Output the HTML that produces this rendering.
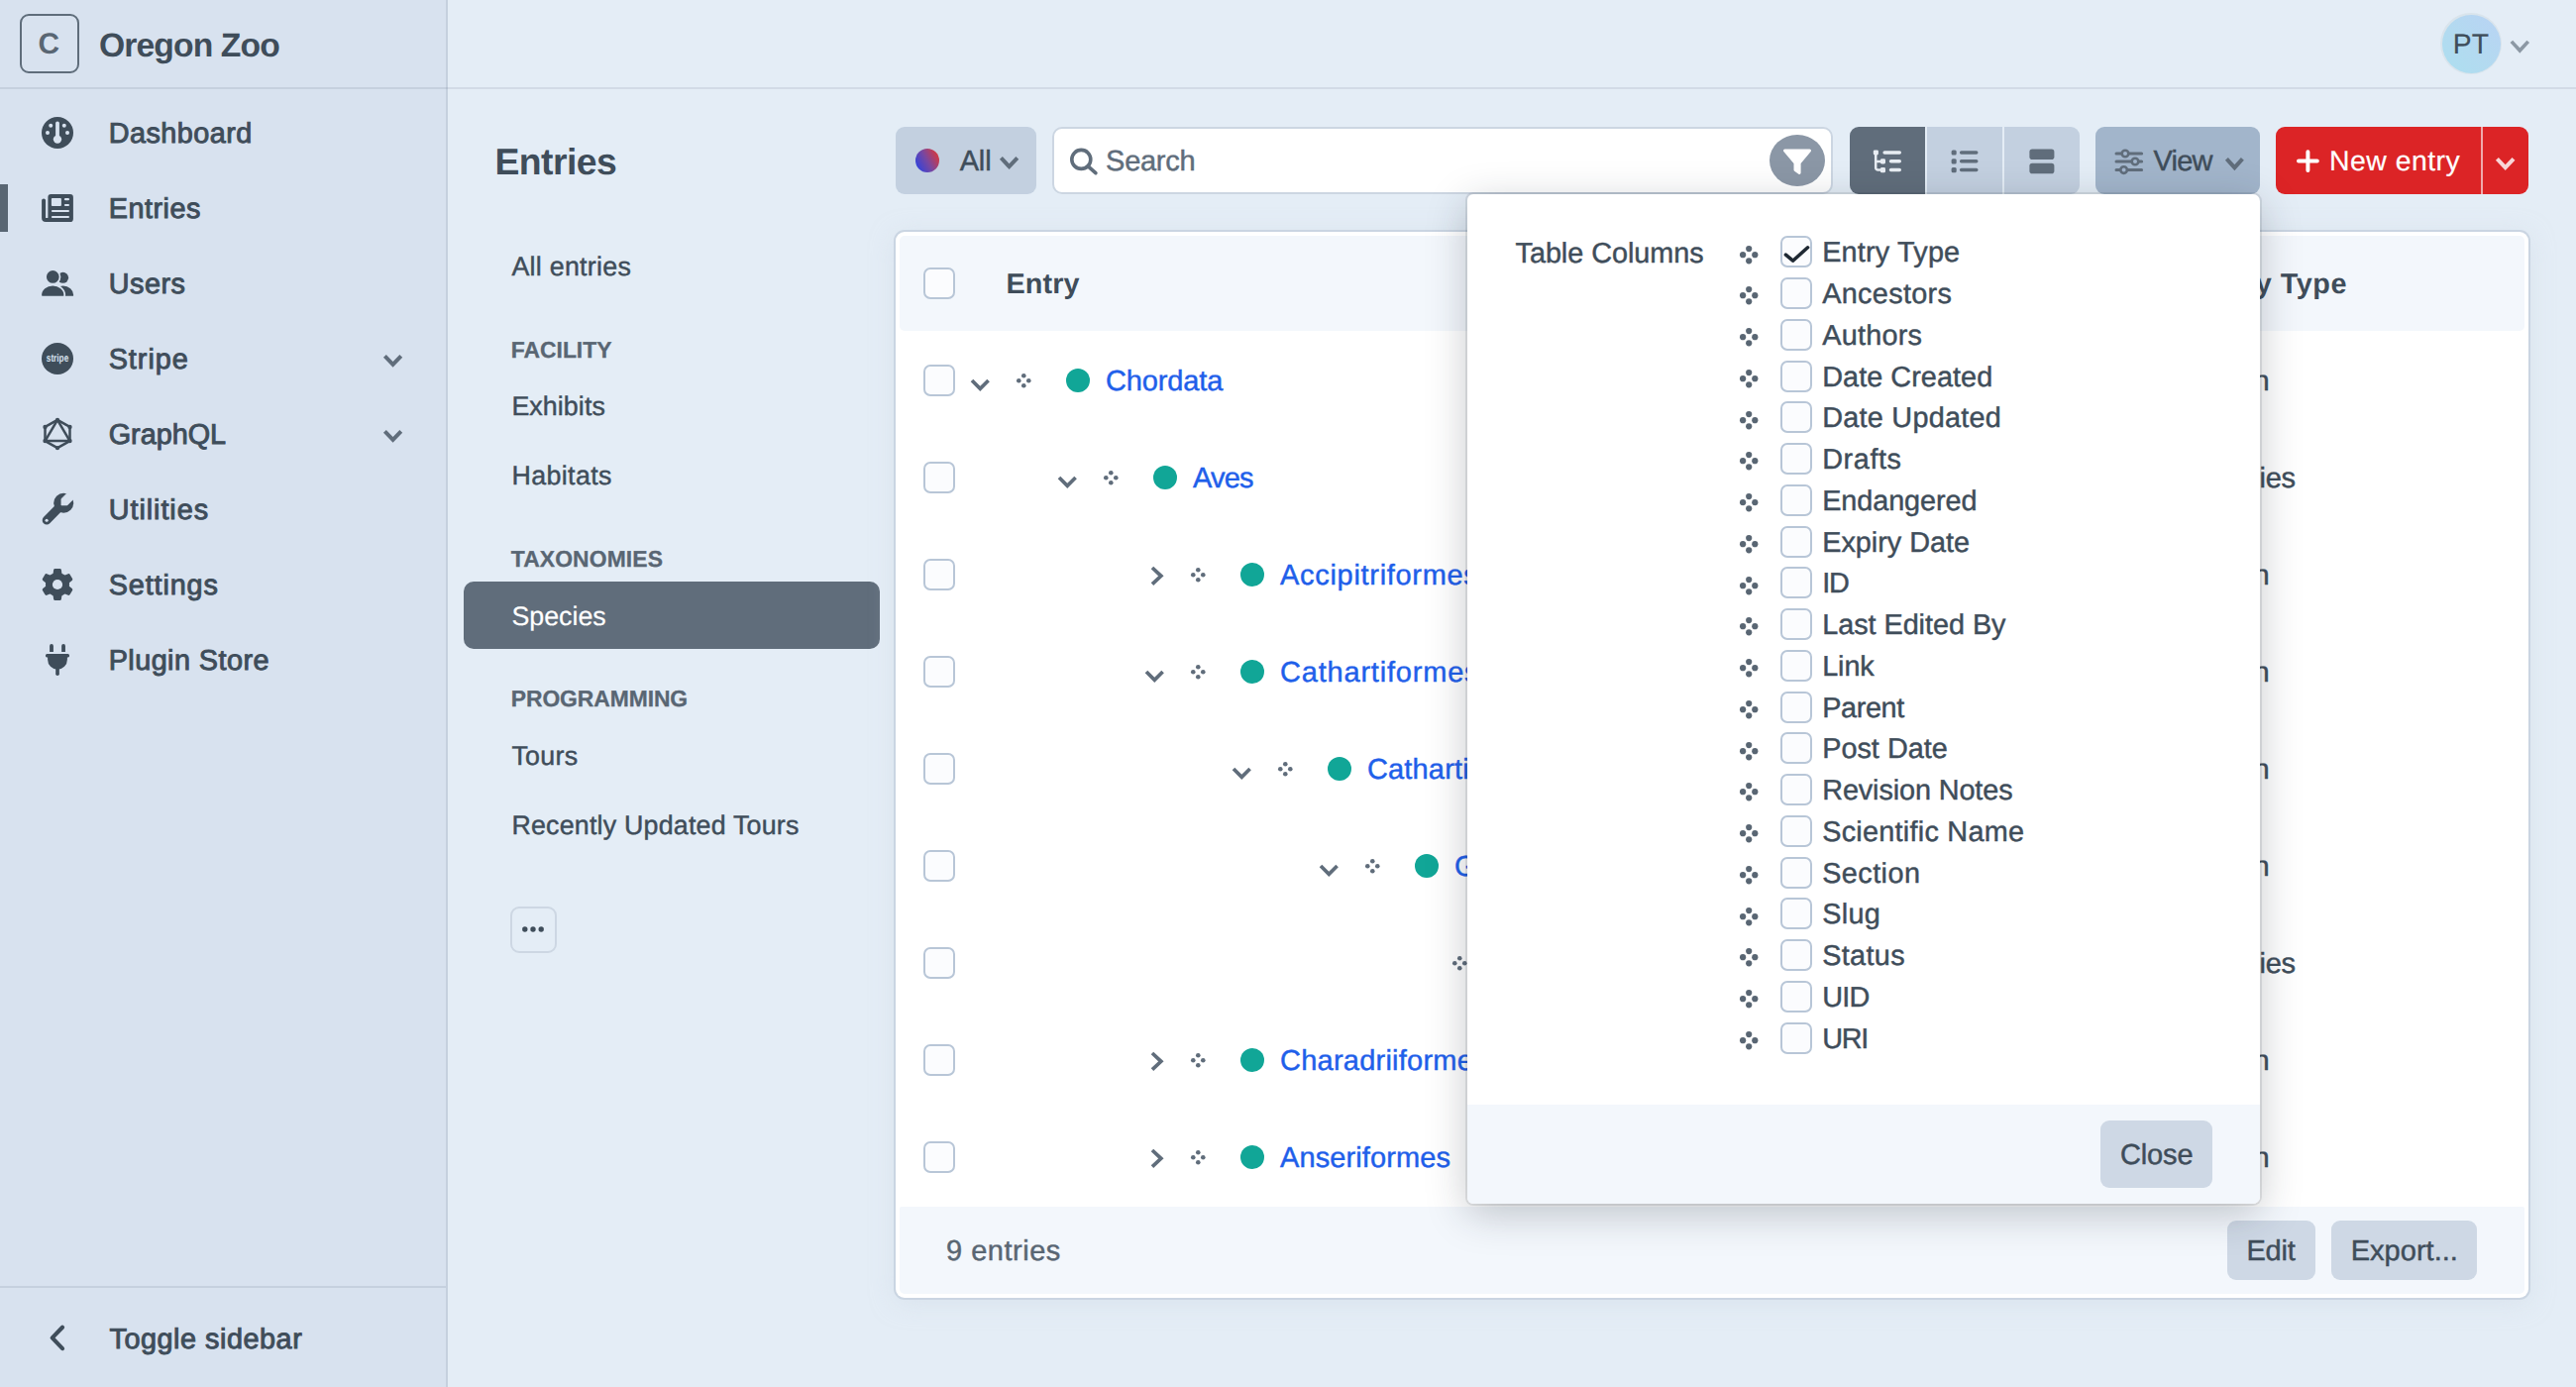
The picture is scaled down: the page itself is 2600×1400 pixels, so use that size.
<!DOCTYPE html>
<html lang="en"><head><meta charset="utf-8"><title>Entries - Oregon Zoo</title>
<style>
html,body{margin:0;padding:0}
body{width:2600px;height:1400px;overflow:hidden;position:relative;background:#e4edf6;font-family:"Liberation Sans",sans-serif;text-rendering:geometricPrecision;color:#3f4d5a}
.a{position:absolute;display:block}
.t{position:absolute;white-space:nowrap;display:block;margin:0;padding:0;font-weight:400;text-decoration:none}
</style></head><body>
<nav id="global-sidebar" aria-label="Primary">
<div class="a" style="left:0px;top:0px;width:450px;height:1400px;background:#d8e2ef;"></div>
<div class="a" style="left:450px;top:0px;width:2px;height:1400px;background:#c5d0de;"></div>
<div class="a" style="left:0px;top:88px;width:450px;height:2px;background:#c5d0de;"></div>
<div class="a" style="left:450px;top:88px;width:2px;height:2px;background:#b5c1d0;"></div>
<div class="a" style="left:0px;top:1298px;width:450px;height:2px;background:#c5d0de;"></div>
<div class="a" style="left:20px;top:14px;width:60px;height:60px;box-sizing:border-box;border:2px solid #5f6d7b;border-radius:9px;"></div>
<div class="a" style="left:0px;top:186px;width:8px;height:48px;background:#596673;"></div>
<svg class="a" style="left:42px;top:118px" width="32" height="32" viewBox="-16 -16 32 32" ><circle r="16" fill="#3f4d5a"/><g fill="#d8e2ef"><rect x="-1.9" y="-11.6" width="3.8" height="18" rx="1.9"/><circle cx="0" cy="6.6" r="4.2"/><circle cx="-6.8" cy="-7.2" r="2"/><circle cx="6.8" cy="-7.2" r="2"/><circle cx="-10" cy="0" r="2"/><circle cx="10" cy="0" r="2"/></g></svg>
<svg class="a" style="left:42px;top:196px" width="32" height="28" viewBox="0 0 32 28" ><path fill="#3f4d5a" d="M9.6 0.1h19.2a3.1 3.1 0 0 1 3.1 3.1v21.7a3.1 3.1 0 0 1-3.1 3.1H4.2A4.1 4.1 0 0 1 .1 23.9V6.1a2 2 0 0 1 3.95 0V23.4a.6 .6 0 0 0 .6 .6H5.8a.6 .6 0 0 0 .6-.6V3.2A3.1 3.1 0 0 1 9.6 .1z"/><g fill="#d8e2ef"><rect x="9.9" y="4.1" width="10" height="7.8" rx="0.9"/><rect x="22.9" y="4.1" width="5.1" height="2.2" rx="1.1"/><rect x="22.9" y="9.9" width="5.1" height="2.1" rx="1.05"/><rect x="9.9" y="15.9" width="18.1" height="2.2" rx="1.1"/><rect x="9.9" y="22" width="18.1" height="2.1" rx="1.05"/></g></svg>
<svg class="a" style="left:42px;top:273px" width="33" height="27" viewBox="0 0 33 27" ><g fill="#3f4d5a"><circle cx="21.6" cy="7.3" r="5.5"/><path d="M11 24.9a10.6 9.4 0 0 1 21.2 0a.9 .9 0 0 1-.9 .9h-19.4a.9 .9 0 0 1-.9-.9z"/></g><g fill="#3f4d5a" stroke="#d8e2ef" stroke-width="1.7"><circle cx="11.3" cy="6.45" r="7.2"/><path d="M-.75 24.9a12 10.2 0 0 1 24 0a1.7 1.7 0 0 1-1.7 1.7h-20.6a1.7 1.7 0 0 1-1.7-1.7z"/></g></svg>
<svg class="a" style="left:42px;top:346px" width="32" height="32" viewBox="-16 -16 32 32" ><circle r="16" fill="#3f4d5a"/><text x="-11.2" y="2.9" textLength="22.4" lengthAdjust="spacingAndGlyphs" font-family="Liberation Sans, sans-serif" font-weight="700" font-size="11" fill="#d8e2ef">stripe</text></svg>
<svg class="a" style="left:41px;top:419.9px" width="34" height="36" viewBox="-17 -18 34 36" ><g fill="none" stroke="#3f4d5a" stroke-width="2.5" stroke-linejoin="round"><polygon points="0,-14.1 12.5,-7.05 12.5,7.05 0,14.1 -12.5,7.05 -12.5,-7.05"/><polygon points="0,-14.1 12.5,7.05 -12.5,7.05"/></g><g fill="#3f4d5a"><circle cx="0" cy="-14.1" r="2.2"/><circle cx="12.5" cy="-7.05" r="2.2"/><circle cx="12.5" cy="7.05" r="2.2"/><circle cx="0" cy="14.1" r="2.2"/><circle cx="-12.5" cy="7.05" r="2.2"/><circle cx="-12.5" cy="-7.05" r="2.2"/></g></svg>
<svg class="a" style="left:41px;top:497px" width="34" height="34" viewBox="0 0 34 34" ><g><path d="M6.1 28.2 L21 13" stroke="#3f4d5a" stroke-width="8.8" stroke-linecap="round" fill="none"/><circle cx="23.2" cy="10.7" r="10" fill="#3f4d5a"/><path d="M20.9 13 L20.9 6.6 L32.9 -5.4 L38.9 1 L26.9 13z" fill="#d8e2ef" stroke="#d8e2ef" stroke-width="0.6" stroke-linejoin="round"/><circle cx="6.1" cy="28.2" r="1.55" fill="#d8e2ef"/></g></svg>
<svg class="a" style="left:41px;top:573px" width="34" height="34" viewBox="-17 -17 34 34" ><g fill="#3f4d5a"><path d="M-2.4 -16h4.8a1.5 1.5 0 0 1 1.5 1.3l.9 6.7h-9.6l.9-6.7a1.5 1.5 0 0 1 1.5-1.3z" transform="rotate(0)"/><path d="M-2.4 -16h4.8a1.5 1.5 0 0 1 1.5 1.3l.9 6.7h-9.6l.9-6.7a1.5 1.5 0 0 1 1.5-1.3z" transform="rotate(60)"/><path d="M-2.4 -16h4.8a1.5 1.5 0 0 1 1.5 1.3l.9 6.7h-9.6l.9-6.7a1.5 1.5 0 0 1 1.5-1.3z" transform="rotate(120)"/><path d="M-2.4 -16h4.8a1.5 1.5 0 0 1 1.5 1.3l.9 6.7h-9.6l.9-6.7a1.5 1.5 0 0 1 1.5-1.3z" transform="rotate(180)"/><path d="M-2.4 -16h4.8a1.5 1.5 0 0 1 1.5 1.3l.9 6.7h-9.6l.9-6.7a1.5 1.5 0 0 1 1.5-1.3z" transform="rotate(240)"/><path d="M-2.4 -16h4.8a1.5 1.5 0 0 1 1.5 1.3l.9 6.7h-9.6l.9-6.7a1.5 1.5 0 0 1 1.5-1.3z" transform="rotate(300)"/><circle r="12"/></g><circle r="5.1" fill="#d8e2ef"/></svg>
<svg class="a" style="left:46px;top:650px" width="24" height="32" viewBox="0 0 24 32" ><g fill="#3f4d5a"><path d="M4.1 7.9V1.9a1.9 1.9 0 0 1 3.8 0v6z"/><path d="M16.15 7.9V1.9a1.9 1.9 0 0 1 3.8 0v6z"/><path d="M1.6 10.1h20.8a1.7 1.7 0 0 1 1.2 2.9l-.6.6h-22l-.6-.6a1.7 1.7 0 0 1 1.2-2.9z"/><path d="M2.1 12.6h19.8v3.2a9.9 9.9 0 0 1-19.8 0z"/><rect x="10.2" y="23" width="3.65" height="9" rx="1.82"/></g></svg>
<svg class="a" style="left:383.0px;top:353.7px" width="27.2" height="20.2" viewBox="-13.6 -10.1 27.2 20.2" ><path d="M-8.20 -4.70 L0 3.70 L8.20 -4.70" fill="none" stroke="#606d7b" stroke-width="4" stroke-linecap="butt" stroke-linejoin="miter"/></svg>
<svg class="a" style="left:383.0px;top:429.7px" width="27.2" height="20.2" viewBox="-13.6 -10.1 27.2 20.2" ><path d="M-8.20 -4.70 L0 3.70 L8.20 -4.70" fill="none" stroke="#606d7b" stroke-width="4" stroke-linecap="butt" stroke-linejoin="miter"/></svg>
<svg class="a" style="left:45.85px;top:1333.6px" width="22.700000000000003" height="32.8" viewBox="-11.350000000000001 -16.4 22.700000000000003 32.8" ><path d="M5.68 -10.73 L-4.63 0 L5.68 10.73" fill="none" stroke="#3f4d5a" stroke-width="4.2" stroke-linecap="round" stroke-linejoin="round"/></svg>
<h2 class="t" style="left:99.95px;top:23.50px;font-size:33.7px;line-height:44px;color:#3f4d5a;letter-spacing:-0.899px;font-weight:700;">Oregon Zoo</h2>
<span class="t" style="left:38.57px;top:25.20px;font-size:29.8px;line-height:39px;color:#596673;letter-spacing:0.000px;font-weight:700;">C</span>
<a class="t" style="left:109.70px;top:116.30px;font-size:28.8px;line-height:38px;color:#3f4d5a;letter-spacing:0.478px;-webkit-text-stroke:0.95px currentColor;">Dashboard</a>
<a class="t" style="left:109.70px;top:192.30px;font-size:28.8px;line-height:38px;color:#3f4d5a;letter-spacing:0.511px;-webkit-text-stroke:0.95px currentColor;">Entries</a>
<a class="t" style="left:109.70px;top:268.30px;font-size:28.8px;line-height:38px;color:#3f4d5a;letter-spacing:0.498px;-webkit-text-stroke:0.95px currentColor;">Users</a>
<a class="t" style="left:109.70px;top:344.30px;font-size:28.8px;line-height:38px;color:#3f4d5a;letter-spacing:0.967px;-webkit-text-stroke:0.95px currentColor;">Stripe</a>
<a class="t" style="left:109.70px;top:420.30px;font-size:28.8px;line-height:38px;color:#3f4d5a;letter-spacing:-0.008px;-webkit-text-stroke:0.95px currentColor;">GraphQL</a>
<a class="t" style="left:109.70px;top:496.10px;font-size:28.8px;line-height:38px;color:#3f4d5a;letter-spacing:0.948px;-webkit-text-stroke:0.95px currentColor;">Utilities</a>
<a class="t" style="left:109.70px;top:572.10px;font-size:28.8px;line-height:38px;color:#3f4d5a;letter-spacing:0.877px;-webkit-text-stroke:0.95px currentColor;">Settings</a>
<a class="t" style="left:109.70px;top:648.30px;font-size:28.8px;line-height:38px;color:#3f4d5a;letter-spacing:0.443px;-webkit-text-stroke:0.95px currentColor;">Plugin Store</a>
<a class="t" style="left:110.55px;top:1332.90px;font-size:28.8px;line-height:38px;color:#3f4d5a;letter-spacing:0.528px;-webkit-text-stroke:0.95px currentColor;">Toggle sidebar</a>
</nav>
<header id="global-header">
<div class="a" style="left:452px;top:88px;width:2148px;height:2px;background:#d2dae6;"></div>
<div class="a" style="left:2463px;top:13px;width:62px;height:62px;border-radius:50%;background:#d9e4ec;"></div>
<div class="a" style="left:2464.5px;top:14.5px;width:59px;height:59px;border-radius:50%;background:linear-gradient(225deg,#b9d3f4 0%,#b3daf0 55%,#acdff0 100%);"></div>
<svg class="a" style="left:2529.8px;top:36.6px" width="26.599999999999998" height="19.8" viewBox="-13.299999999999999 -9.9 26.599999999999998 19.8" ><path d="M-8.44 -5.04 L0 4.14 L8.44 -5.04" fill="none" stroke="#8c98a4" stroke-width="3.6" stroke-linecap="butt" stroke-linejoin="miter"/></svg>
<span class="t" style="left:2475.70px;top:25.80px;font-size:28.2px;line-height:37px;color:#3f4d5a;letter-spacing:0.350px;-webkit-text-stroke:0.2px currentColor;">PT</span>
</header>
<aside id="sidebar" aria-label="Sources">
<div class="a" style="left:468px;top:587px;width:420px;height:68px;background:#606d7b;border-radius:10px;"></div>
<div class="a" style="left:514.5px;top:914.5px;width:47px;height:47px;box-sizing:border-box;border:2px solid #cdd7e3;border-radius:9px;"></div>
<svg class="a" style="left:526px;top:932px" width="24" height="12" viewBox="-12 -6 24 12" ><g fill="#3f4d5a"><circle cx="-8.2" r="2.7"/><circle r="2.7"/><circle cx="8.2" r="2.7"/></g></svg>
<h1 class="t" style="left:499.46px;top:139.00px;font-size:37.4px;line-height:49px;color:#3f4d5a;letter-spacing:-0.573px;font-weight:700;">Entries</h1>
<a class="t" style="left:516.40px;top:251.90px;font-size:26.8px;line-height:35px;color:#3f4d5a;letter-spacing:0.277px;-webkit-text-stroke:0.45px currentColor;">All entries</a>
<a class="t" style="left:516.40px;top:392.80px;font-size:26.8px;line-height:35px;color:#3f4d5a;letter-spacing:0.085px;-webkit-text-stroke:0.45px currentColor;">Exhibits</a>
<a class="t" style="left:516.40px;top:463.10px;font-size:26.8px;line-height:35px;color:#3f4d5a;letter-spacing:0.389px;-webkit-text-stroke:0.45px currentColor;">Habitats</a>
<a class="t" style="left:516.40px;top:746.10px;font-size:26.8px;line-height:35px;color:#3f4d5a;letter-spacing:0.301px;-webkit-text-stroke:0.45px currentColor;">Tours</a>
<a class="t" style="left:516.40px;top:816.10px;font-size:26.8px;line-height:35px;color:#3f4d5a;letter-spacing:0.210px;-webkit-text-stroke:0.45px currentColor;">Recently Updated Tours</a>
<a class="t" style="left:516.40px;top:605.20px;font-size:26.8px;line-height:35px;color:#ffffff;letter-spacing:-0.001px;-webkit-text-stroke:0.2px currentColor;">Species</a>
<h6 class="t" style="left:515.80px;top:337.70px;font-size:22.9px;line-height:30px;color:#596673;letter-spacing:-0.014px;font-weight:700;-webkit-text-stroke:0.3px currentColor;">FACILITY</h6>
<h6 class="t" style="left:515.80px;top:548.80px;font-size:22.9px;line-height:30px;color:#596673;letter-spacing:0.103px;font-weight:700;-webkit-text-stroke:0.3px currentColor;">TAXONOMIES</h6>
<h6 class="t" style="left:515.80px;top:690.00px;font-size:22.9px;line-height:30px;color:#596673;letter-spacing:-0.096px;font-weight:700;-webkit-text-stroke:0.3px currentColor;">PROGRAMMING</h6>
</aside>
<div id="toolbar" role="toolbar">
<div class="a" style="left:904px;top:128px;width:142px;height:68px;background:rgba(96,125,159,.25);border-radius:9px;"></div>
<div class="a" style="left:924px;top:150px;width:24px;height:24px;border-radius:50%;background:linear-gradient(62deg,#2d42df 8%,#7a479f 50%,#dc3838 92%);"></div>
<svg class="a" style="left:1005.4px;top:154.25px" width="27.2" height="20.5" viewBox="-13.6 -10.25 27.2 20.5" ><path d="M-8.20 -4.85 L0 3.85 L8.20 -4.85" fill="none" stroke="#606d7b" stroke-width="4" stroke-linecap="butt" stroke-linejoin="miter"/></svg>
<div class="a" style="left:1062px;top:128px;width:788px;height:68px;box-sizing:border-box;border:2px solid #ccd6e2;border-radius:10px;background:#fff;"></div>
<svg class="a" style="left:1078px;top:146px" width="32" height="32" viewBox="0 0 32 32" ><g fill="none" stroke="#606d7b" stroke-width="3.6"><circle cx="13.3" cy="14.9" r="9.5"/><path d="M20.2 21.8 L27.9 28.7" stroke-linecap="round"/></g></svg>
<div class="a" style="left:1786px;top:136px;width:56px;height:52px;border-radius:50%;background:#8b97a6;"></div>
<svg class="a" style="left:1799px;top:149px" width="30" height="28" viewBox="0 0 30 28" ><path fill="#fff" d="M2.6 1.4h24.8a1.6 1.6 0 0 1 1.25 2.6L18.6 16v9.6a1.4 1.4 0 0 1-2.2 1.1l-4.2-3a1.6 1.6 0 0 1-.7-1.3V16L1.35 4A1.6 1.6 0 0 1 2.6 1.4z"/></svg>
<div class="a" style="left:1867px;top:128px;width:76px;height:68px;background:#606d7b;border-radius:9px 0 0 9px;"></div>
<div class="a" style="left:1945px;top:128px;width:76px;height:68px;background:rgba(96,125,159,.25);"></div>
<div class="a" style="left:2023px;top:128px;width:76px;height:68px;background:rgba(96,125,159,.25);border-radius:0 9px 9px 0;"></div>
<svg class="a" style="left:1890px;top:150px" width="30" height="26" viewBox="0 0 30 26" ><g fill="#e8edf3"><rect x="0.8" y="1.4" width="5.1" height="5.1" rx="1.4"/><rect x="7.9" y="10.3" width="5.1" height="5.2" rx="1.4"/><rect x="7.9" y="19" width="5.1" height="5.3" rx="1.4"/><rect x="10.4" y="2.3" width="18.6" height="3.4" rx="1.7"/><rect x="16.8" y="10.9" width="12.2" height="3.5" rx="1.75"/><rect x="16.8" y="19.7" width="12.2" height="3.6" rx="1.8"/></g><path d="M3.2 6v13.4a2.2 2.2 0 0 0 2.2 2.2H9M3.2 12.9H9" fill="none" stroke="#e8edf3" stroke-width="2.5"/></svg>
<svg class="a" style="left:1969px;top:150px" width="28" height="26" viewBox="0 0 28 26" ><g fill="#606d7b"><rect x="0.6" y="1.4" width="5.1" height="5.1" rx="1.5"/><rect x="0.6" y="10.3" width="5.1" height="5.1" rx="1.5"/><rect x="0.6" y="19" width="5.1" height="5.2" rx="1.5"/><rect x="8.9" y="2.2" width="18.6" height="3.5" rx="1.75"/><rect x="8.9" y="11.1" width="18.6" height="3.5" rx="1.75"/><rect x="8.9" y="19.8" width="18.6" height="3.5" rx="1.75"/></g></svg>
<svg class="a" style="left:2048px;top:150px" width="26" height="26" viewBox="0 0 26 26" ><g fill="#606d7b"><rect x="0.4" y="0.6" width="25" height="10.4" rx="2.8"/><rect x="0.4" y="14.8" width="25" height="10.4" rx="2.8"/></g></svg>
<div class="a" style="left:2115px;top:128px;width:166px;height:68px;background:rgba(96,125,159,.5);border-radius:9px;"></div>
<svg class="a" style="left:2134px;top:149px" width="30" height="28" viewBox="0 0 30 28" ><g stroke="#606d7b" stroke-width="3" fill="none" stroke-linecap="round"><path d="M2 6h25.6M2 14h25.6M2 22.6h25.6"/></g><g fill="#a2b5cd" stroke="#606d7b" stroke-width="2.6"><circle cx="11" cy="6" r="3.3"/><circle cx="21" cy="14" r="3.3"/><circle cx="9.6" cy="22.6" r="3.3"/></g></svg>
<svg class="a" style="left:2241.9px;top:154.5px" width="26.8" height="20.6" viewBox="-13.4 -10.3 26.8 20.6" ><path d="M-8.00 -4.90 L0 3.90 L8.00 -4.90" fill="none" stroke="#606d7b" stroke-width="4" stroke-linecap="butt" stroke-linejoin="miter"/></svg>
<div class="a" style="left:2297px;top:128px;width:207px;height:68px;background:#dc2426;border-radius:9px 0 0 9px;"></div>
<div class="a" style="left:2504px;top:128px;width:2px;height:68px;background:#f0a9ab;"></div>
<div class="a" style="left:2506px;top:128px;width:46px;height:68px;background:#dc2426;border-radius:0 9px 9px 0;"></div>
<svg class="a" style="left:2317px;top:150px" width="25" height="25" viewBox="0 0 25 25" ><path d="M12.4 3.2v18.8M3 12.6h18.8" stroke="#fff" stroke-width="4" stroke-linecap="round" fill="none"/></svg>
<svg class="a" style="left:2515.3px;top:154.5px" width="27.4" height="20.6" viewBox="-13.7 -10.3 27.4 20.6" ><path d="M-8.30 -4.90 L0 3.90 L8.30 -4.90" fill="none" stroke="#f8d6d7" stroke-width="4" stroke-linecap="butt" stroke-linejoin="miter"/></svg>
<span class="t" style="left:968.70px;top:144.40px;font-size:29.0px;line-height:38px;color:#3f4d5a;letter-spacing:-0.158px;-webkit-text-stroke:0.45px currentColor;">All</span>
<span class="t" style="left:1116.09px;top:144.40px;font-size:29.0px;line-height:38px;color:#606d7b;letter-spacing:-0.270px;-webkit-text-stroke:0.45px currentColor;">Search</span>
<span class="t" style="left:2173.40px;top:144.00px;font-size:29.0px;line-height:38px;color:#3f4d5a;letter-spacing:-0.729px;-webkit-text-stroke:0.45px currentColor;">View</span>
<span class="t" style="left:2351.08px;top:144.50px;font-size:28.4px;line-height:37px;color:#ffffff;letter-spacing:0.485px;-webkit-text-stroke:0.2px currentColor;">New entry</span>
</div>
<main id="content" class="content-pane">
<div class="a" style="left:904px;top:234px;width:1648px;height:1076px;border-radius:9px;background:#fff;box-shadow:0 0 0 2px #cad5e2,0 4px 24px rgba(205,216,228,.5);"></div>
<div class="a" style="left:908px;top:238px;width:1640px;height:96px;background:#f3f7fc;border-radius:5px;"></div>
<div class="a" style="left:908px;top:1218px;width:1640px;height:87.6px;background:#f3f7fc;border-radius:2px 2px 5px 5px;"></div>
<div class="a" style="left:932px;top:270px;width:32px;height:32px;box-sizing:border-box;border:2px solid #b8c6d7;border-radius:7px;background:#fbfcfe;"></div>
<div class="a" style="left:932px;top:368px;width:32px;height:32px;box-sizing:border-box;border:2px solid #b8c6d7;border-radius:7px;background:#fbfcfe;"></div>
<svg class="a" style="left:975.6999999999999px;top:378.6px" width="26.6" height="19.200000000000003" viewBox="-13.3 -9.600000000000001 26.6 19.200000000000003" ><path d="M-8.30 -4.61 L0 3.68 L8.30 -4.61" fill="none" stroke="#606d7b" stroke-width="3.7" stroke-linecap="butt" stroke-linejoin="miter"/></svg>
<svg class="a" style="left:1024.5px;top:376.0px" width="16.6" height="16.6" viewBox="-8.3 -8.3 16.6 16.6" ><g fill="#606d7b"><circle cx="0" cy="-5.0" r="2.3"/><circle cx="-5.0" cy="0" r="2.3"/><circle cx="5.0" cy="0" r="2.3"/><circle cx="0" cy="5.0" r="2.3"/></g></svg>
<div class="a" style="left:1076px;top:372px;width:24px;height:24px;border-radius:50%;background:#11a697;"></div>
<div class="a" style="left:932px;top:466px;width:32px;height:32px;box-sizing:border-box;border:2px solid #b8c6d7;border-radius:7px;background:#fbfcfe;"></div>
<svg class="a" style="left:1063.7px;top:476.6px" width="26.6" height="19.200000000000003" viewBox="-13.3 -9.600000000000001 26.6 19.200000000000003" ><path d="M-8.30 -4.61 L0 3.68 L8.30 -4.61" fill="none" stroke="#606d7b" stroke-width="3.7" stroke-linecap="butt" stroke-linejoin="miter"/></svg>
<svg class="a" style="left:1112.5px;top:474.0px" width="16.6" height="16.6" viewBox="-8.3 -8.3 16.6 16.6" ><g fill="#606d7b"><circle cx="0" cy="-5.0" r="2.3"/><circle cx="-5.0" cy="0" r="2.3"/><circle cx="5.0" cy="0" r="2.3"/><circle cx="0" cy="5.0" r="2.3"/></g></svg>
<div class="a" style="left:1164px;top:470px;width:24px;height:24px;border-radius:50%;background:#11a697;"></div>
<div class="a" style="left:932px;top:564px;width:32px;height:32px;box-sizing:border-box;border:2px solid #b8c6d7;border-radius:7px;background:#fbfcfe;"></div>
<svg class="a" style="left:1158.1px;top:567.9999999999999px" width="19.8" height="26.6" viewBox="-9.9 -13.3 19.8 26.6" ><path d="M-4.91 -8.30 L3.98 0 L-4.91 8.30" fill="none" stroke="#606d7b" stroke-width="3.7" stroke-linecap="butt" stroke-linejoin="miter"/></svg>
<svg class="a" style="left:1200.5px;top:572.0px" width="16.6" height="16.6" viewBox="-8.3 -8.3 16.6 16.6" ><g fill="#606d7b"><circle cx="0" cy="-5.0" r="2.3"/><circle cx="-5.0" cy="0" r="2.3"/><circle cx="5.0" cy="0" r="2.3"/><circle cx="0" cy="5.0" r="2.3"/></g></svg>
<div class="a" style="left:1252px;top:568px;width:24px;height:24px;border-radius:50%;background:#11a697;"></div>
<div class="a" style="left:932px;top:662px;width:32px;height:32px;box-sizing:border-box;border:2px solid #b8c6d7;border-radius:7px;background:#fbfcfe;"></div>
<svg class="a" style="left:1151.7px;top:672.6px" width="26.6" height="19.200000000000003" viewBox="-13.3 -9.600000000000001 26.6 19.200000000000003" ><path d="M-8.30 -4.61 L0 3.68 L8.30 -4.61" fill="none" stroke="#606d7b" stroke-width="3.7" stroke-linecap="butt" stroke-linejoin="miter"/></svg>
<svg class="a" style="left:1200.5px;top:670.0px" width="16.6" height="16.6" viewBox="-8.3 -8.3 16.6 16.6" ><g fill="#606d7b"><circle cx="0" cy="-5.0" r="2.3"/><circle cx="-5.0" cy="0" r="2.3"/><circle cx="5.0" cy="0" r="2.3"/><circle cx="0" cy="5.0" r="2.3"/></g></svg>
<div class="a" style="left:1252px;top:666px;width:24px;height:24px;border-radius:50%;background:#11a697;"></div>
<div class="a" style="left:932px;top:760px;width:32px;height:32px;box-sizing:border-box;border:2px solid #b8c6d7;border-radius:7px;background:#fbfcfe;"></div>
<svg class="a" style="left:1239.7px;top:770.6px" width="26.6" height="19.200000000000003" viewBox="-13.3 -9.600000000000001 26.6 19.200000000000003" ><path d="M-8.30 -4.61 L0 3.68 L8.30 -4.61" fill="none" stroke="#606d7b" stroke-width="3.7" stroke-linecap="butt" stroke-linejoin="miter"/></svg>
<svg class="a" style="left:1288.5px;top:768.0px" width="16.6" height="16.6" viewBox="-8.3 -8.3 16.6 16.6" ><g fill="#606d7b"><circle cx="0" cy="-5.0" r="2.3"/><circle cx="-5.0" cy="0" r="2.3"/><circle cx="5.0" cy="0" r="2.3"/><circle cx="0" cy="5.0" r="2.3"/></g></svg>
<div class="a" style="left:1340px;top:764px;width:24px;height:24px;border-radius:50%;background:#11a697;"></div>
<div class="a" style="left:932px;top:858px;width:32px;height:32px;box-sizing:border-box;border:2px solid #b8c6d7;border-radius:7px;background:#fbfcfe;"></div>
<svg class="a" style="left:1327.7px;top:868.6px" width="26.6" height="19.200000000000003" viewBox="-13.3 -9.600000000000001 26.6 19.200000000000003" ><path d="M-8.30 -4.61 L0 3.68 L8.30 -4.61" fill="none" stroke="#606d7b" stroke-width="3.7" stroke-linecap="butt" stroke-linejoin="miter"/></svg>
<svg class="a" style="left:1376.5px;top:866.0px" width="16.6" height="16.6" viewBox="-8.3 -8.3 16.6 16.6" ><g fill="#606d7b"><circle cx="0" cy="-5.0" r="2.3"/><circle cx="-5.0" cy="0" r="2.3"/><circle cx="5.0" cy="0" r="2.3"/><circle cx="0" cy="5.0" r="2.3"/></g></svg>
<div class="a" style="left:1428px;top:862px;width:24px;height:24px;border-radius:50%;background:#11a697;"></div>
<div class="a" style="left:932px;top:956px;width:32px;height:32px;box-sizing:border-box;border:2px solid #b8c6d7;border-radius:7px;background:#fbfcfe;"></div>
<svg class="a" style="left:1464.5px;top:964.0px" width="16.6" height="16.6" viewBox="-8.3 -8.3 16.6 16.6" ><g fill="#606d7b"><circle cx="0" cy="-5.0" r="2.3"/><circle cx="-5.0" cy="0" r="2.3"/><circle cx="5.0" cy="0" r="2.3"/><circle cx="0" cy="5.0" r="2.3"/></g></svg>
<div class="a" style="left:1516px;top:960px;width:24px;height:24px;border-radius:50%;background:#11a697;"></div>
<div class="a" style="left:932px;top:1054px;width:32px;height:32px;box-sizing:border-box;border:2px solid #b8c6d7;border-radius:7px;background:#fbfcfe;"></div>
<svg class="a" style="left:1158.1px;top:1058.0px" width="19.8" height="26.6" viewBox="-9.9 -13.3 19.8 26.6" ><path d="M-4.91 -8.30 L3.98 0 L-4.91 8.30" fill="none" stroke="#606d7b" stroke-width="3.7" stroke-linecap="butt" stroke-linejoin="miter"/></svg>
<svg class="a" style="left:1200.5px;top:1062.0px" width="16.6" height="16.6" viewBox="-8.3 -8.3 16.6 16.6" ><g fill="#606d7b"><circle cx="0" cy="-5.0" r="2.3"/><circle cx="-5.0" cy="0" r="2.3"/><circle cx="5.0" cy="0" r="2.3"/><circle cx="0" cy="5.0" r="2.3"/></g></svg>
<div class="a" style="left:1252px;top:1058px;width:24px;height:24px;border-radius:50%;background:#11a697;"></div>
<div class="a" style="left:932px;top:1152px;width:32px;height:32px;box-sizing:border-box;border:2px solid #b8c6d7;border-radius:7px;background:#fbfcfe;"></div>
<svg class="a" style="left:1158.1px;top:1156.0px" width="19.8" height="26.6" viewBox="-9.9 -13.3 19.8 26.6" ><path d="M-4.91 -8.30 L3.98 0 L-4.91 8.30" fill="none" stroke="#606d7b" stroke-width="3.7" stroke-linecap="butt" stroke-linejoin="miter"/></svg>
<svg class="a" style="left:1200.5px;top:1160.0px" width="16.6" height="16.6" viewBox="-8.3 -8.3 16.6 16.6" ><g fill="#606d7b"><circle cx="0" cy="-5.0" r="2.3"/><circle cx="-5.0" cy="0" r="2.3"/><circle cx="5.0" cy="0" r="2.3"/><circle cx="0" cy="5.0" r="2.3"/></g></svg>
<div class="a" style="left:1252px;top:1156px;width:24px;height:24px;border-radius:50%;background:#11a697;"></div>
<div class="a" style="left:2248px;top:1232px;width:89px;height:60px;background:rgba(96,125,159,.25);border-radius:9px;"></div>
<div class="a" style="left:2353px;top:1232px;width:147px;height:60px;background:rgba(96,125,159,.25);border-radius:9px;"></div>
<span class="t" style="left:1015.50px;top:268.30px;font-size:28.8px;line-height:38px;color:#3f4d5a;letter-spacing:0.100px;font-weight:700;">Entry</span>
<span class="t" style="left:2217.22px;top:268.30px;font-size:28.8px;line-height:38px;color:#3f4d5a;letter-spacing:0.500px;font-weight:700;">Entry Type</span>
<a class="t" style="left:1116.00px;top:366.20px;font-size:29.0px;line-height:38px;color:#1f5fea;letter-spacing:-0.126px;-webkit-text-stroke:0.45px currentColor;">Chordata</a>
<span class="t" style="left:2214.14px;top:366.20px;font-size:29.0px;line-height:38px;color:#3f4d5a;letter-spacing:-0.200px;-webkit-text-stroke:0.45px currentColor;">Taxon</span>
<a class="t" style="left:1204.00px;top:464.20px;font-size:29.0px;line-height:38px;color:#1f5fea;letter-spacing:-0.780px;-webkit-text-stroke:0.45px currentColor;">Aves</a>
<span class="t" style="left:2215.14px;top:464.20px;font-size:29.0px;line-height:38px;color:#3f4d5a;letter-spacing:-0.200px;-webkit-text-stroke:0.45px currentColor;">Species</span>
<a class="t" style="left:1292.00px;top:562.20px;font-size:29.0px;line-height:38px;color:#1f5fea;letter-spacing:0.695px;-webkit-text-stroke:0.45px currentColor;">Accipitriformes</a>
<span class="t" style="left:2214.14px;top:562.20px;font-size:29.0px;line-height:38px;color:#3f4d5a;letter-spacing:-0.200px;-webkit-text-stroke:0.45px currentColor;">Taxon</span>
<a class="t" style="left:1292.00px;top:660.20px;font-size:29.0px;line-height:38px;color:#1f5fea;letter-spacing:0.800px;-webkit-text-stroke:0.45px currentColor;">Cathartiformes</a>
<span class="t" style="left:2214.14px;top:660.20px;font-size:29.0px;line-height:38px;color:#3f4d5a;letter-spacing:-0.200px;-webkit-text-stroke:0.45px currentColor;">Taxon</span>
<a class="t" style="left:1380.00px;top:758.20px;font-size:29.0px;line-height:38px;color:#1f5fea;letter-spacing:0.150px;-webkit-text-stroke:0.45px currentColor;">Cathartidae</a>
<span class="t" style="left:2214.14px;top:758.20px;font-size:29.0px;line-height:38px;color:#3f4d5a;letter-spacing:-0.200px;-webkit-text-stroke:0.45px currentColor;">Taxon</span>
<a class="t" style="left:1468.00px;top:856.20px;font-size:29.0px;line-height:38px;color:#1f5fea;letter-spacing:-0.200px;-webkit-text-stroke:0.45px currentColor;">Gymnogyps</a>
<span class="t" style="left:2214.14px;top:856.20px;font-size:29.0px;line-height:38px;color:#3f4d5a;letter-spacing:-0.200px;-webkit-text-stroke:0.45px currentColor;">Taxon</span>
<a class="t" style="left:1556.00px;top:954.20px;font-size:29.0px;line-height:38px;color:#1f5fea;letter-spacing:-0.200px;-webkit-text-stroke:0.45px currentColor;">California Condor</a>
<span class="t" style="left:2215.14px;top:954.20px;font-size:29.0px;line-height:38px;color:#3f4d5a;letter-spacing:-0.200px;-webkit-text-stroke:0.45px currentColor;">Species</span>
<a class="t" style="left:1292.00px;top:1052.20px;font-size:29.0px;line-height:38px;color:#1f5fea;letter-spacing:0.237px;-webkit-text-stroke:0.45px currentColor;">Charadriiformes</a>
<span class="t" style="left:2214.14px;top:1052.20px;font-size:29.0px;line-height:38px;color:#3f4d5a;letter-spacing:-0.200px;-webkit-text-stroke:0.45px currentColor;">Taxon</span>
<a class="t" style="left:1292.00px;top:1150.20px;font-size:29.0px;line-height:38px;color:#1f5fea;letter-spacing:0.107px;-webkit-text-stroke:0.45px currentColor;">Anseriformes</a>
<span class="t" style="left:2214.14px;top:1150.20px;font-size:29.0px;line-height:38px;color:#3f4d5a;letter-spacing:-0.200px;-webkit-text-stroke:0.45px currentColor;">Taxon</span>
<span class="t" style="left:955.04px;top:1244.00px;font-size:29.0px;line-height:38px;color:#596673;letter-spacing:0.505px;-webkit-text-stroke:0.45px currentColor;">9 entries</span>
<span class="t" style="left:2267.53px;top:1243.70px;font-size:29.0px;line-height:38px;color:#3f4d5a;letter-spacing:-0.268px;-webkit-text-stroke:0.45px currentColor;">Edit</span>
<span class="t" style="left:2372.73px;top:1243.70px;font-size:29.0px;line-height:38px;color:#3f4d5a;letter-spacing:0.025px;-webkit-text-stroke:0.45px currentColor;">Export...</span>
</main>
<div class="a hud" role="dialog" style="left:1481px;top:196px;width:800px;height:1019px;background:#fff;border-radius:6px 7px 7px 6px;box-shadow:0 0 0 2px rgba(31,41,51,.1),0 10px 40px rgba(31,41,51,.25);">
<div class="a" style="left:0;top:919px;width:800px;height:100px;background:#f3f7fc;border-radius:0 0 7px 6px;"></div>
<div class="a" style="left:639px;top:935px;width:113px;height:68px;background:rgba(96,125,159,.25);border-radius:9px;"></div>
<div class="a" style="left:316px;top:42.4px;width:32px;height:32px;box-sizing:border-box;border:2px solid #b8c6d7;border-radius:7px;background:#fbfcfe;"></div>
<svg class="a" style="left:273.8999999999999px;top:50.60000000000001px" width="20.4" height="20.4" viewBox="-10.2 -10.2 20.4 20.4" ><g fill="#596673"><circle cx="0" cy="-6.1" r="3.1"/><circle cx="-6.1" cy="0" r="3.1"/><circle cx="6.1" cy="0" r="3.1"/><circle cx="0" cy="6.1" r="3.1"/></g></svg>
<div class="a" style="left:316px;top:84.15px;width:32px;height:32px;box-sizing:border-box;border:2px solid #b8c6d7;border-radius:7px;background:#fbfcfe;"></div>
<svg class="a" style="left:273.8999999999999px;top:92.34999999999995px" width="20.4" height="20.4" viewBox="-10.2 -10.2 20.4 20.4" ><g fill="#596673"><circle cx="0" cy="-6.1" r="3.1"/><circle cx="-6.1" cy="0" r="3.1"/><circle cx="6.1" cy="0" r="3.1"/><circle cx="0" cy="6.1" r="3.1"/></g></svg>
<div class="a" style="left:316px;top:125.9px;width:32px;height:32px;box-sizing:border-box;border:2px solid #b8c6d7;border-radius:7px;background:#fbfcfe;"></div>
<svg class="a" style="left:273.8999999999999px;top:134.09999999999997px" width="20.4" height="20.4" viewBox="-10.2 -10.2 20.4 20.4" ><g fill="#596673"><circle cx="0" cy="-6.1" r="3.1"/><circle cx="-6.1" cy="0" r="3.1"/><circle cx="6.1" cy="0" r="3.1"/><circle cx="0" cy="6.1" r="3.1"/></g></svg>
<div class="a" style="left:316px;top:167.65px;width:32px;height:32px;box-sizing:border-box;border:2px solid #b8c6d7;border-radius:7px;background:#fbfcfe;"></div>
<svg class="a" style="left:273.8999999999999px;top:175.84999999999997px" width="20.4" height="20.4" viewBox="-10.2 -10.2 20.4 20.4" ><g fill="#596673"><circle cx="0" cy="-6.1" r="3.1"/><circle cx="-6.1" cy="0" r="3.1"/><circle cx="6.1" cy="0" r="3.1"/><circle cx="0" cy="6.1" r="3.1"/></g></svg>
<div class="a" style="left:316px;top:209.4px;width:32px;height:32px;box-sizing:border-box;border:2px solid #b8c6d7;border-radius:7px;background:#fbfcfe;"></div>
<svg class="a" style="left:273.8999999999999px;top:217.59999999999997px" width="20.4" height="20.4" viewBox="-10.2 -10.2 20.4 20.4" ><g fill="#596673"><circle cx="0" cy="-6.1" r="3.1"/><circle cx="-6.1" cy="0" r="3.1"/><circle cx="6.1" cy="0" r="3.1"/><circle cx="0" cy="6.1" r="3.1"/></g></svg>
<div class="a" style="left:316px;top:251.15px;width:32px;height:32px;box-sizing:border-box;border:2px solid #b8c6d7;border-radius:7px;background:#fbfcfe;"></div>
<svg class="a" style="left:273.8999999999999px;top:259.34999999999997px" width="20.4" height="20.4" viewBox="-10.2 -10.2 20.4 20.4" ><g fill="#596673"><circle cx="0" cy="-6.1" r="3.1"/><circle cx="-6.1" cy="0" r="3.1"/><circle cx="6.1" cy="0" r="3.1"/><circle cx="0" cy="6.1" r="3.1"/></g></svg>
<div class="a" style="left:316px;top:292.9px;width:32px;height:32px;box-sizing:border-box;border:2px solid #b8c6d7;border-radius:7px;background:#fbfcfe;"></div>
<svg class="a" style="left:273.8999999999999px;top:301.09999999999997px" width="20.4" height="20.4" viewBox="-10.2 -10.2 20.4 20.4" ><g fill="#596673"><circle cx="0" cy="-6.1" r="3.1"/><circle cx="-6.1" cy="0" r="3.1"/><circle cx="6.1" cy="0" r="3.1"/><circle cx="0" cy="6.1" r="3.1"/></g></svg>
<div class="a" style="left:316px;top:334.65px;width:32px;height:32px;box-sizing:border-box;border:2px solid #b8c6d7;border-radius:7px;background:#fbfcfe;"></div>
<svg class="a" style="left:273.8999999999999px;top:342.84999999999997px" width="20.4" height="20.4" viewBox="-10.2 -10.2 20.4 20.4" ><g fill="#596673"><circle cx="0" cy="-6.1" r="3.1"/><circle cx="-6.1" cy="0" r="3.1"/><circle cx="6.1" cy="0" r="3.1"/><circle cx="0" cy="6.1" r="3.1"/></g></svg>
<div class="a" style="left:316px;top:376.4px;width:32px;height:32px;box-sizing:border-box;border:2px solid #b8c6d7;border-radius:7px;background:#fbfcfe;"></div>
<svg class="a" style="left:273.8999999999999px;top:384.59999999999997px" width="20.4" height="20.4" viewBox="-10.2 -10.2 20.4 20.4" ><g fill="#596673"><circle cx="0" cy="-6.1" r="3.1"/><circle cx="-6.1" cy="0" r="3.1"/><circle cx="6.1" cy="0" r="3.1"/><circle cx="0" cy="6.1" r="3.1"/></g></svg>
<div class="a" style="left:316px;top:418.15px;width:32px;height:32px;box-sizing:border-box;border:2px solid #b8c6d7;border-radius:7px;background:#fbfcfe;"></div>
<svg class="a" style="left:273.8999999999999px;top:426.34999999999997px" width="20.4" height="20.4" viewBox="-10.2 -10.2 20.4 20.4" ><g fill="#596673"><circle cx="0" cy="-6.1" r="3.1"/><circle cx="-6.1" cy="0" r="3.1"/><circle cx="6.1" cy="0" r="3.1"/><circle cx="0" cy="6.1" r="3.1"/></g></svg>
<div class="a" style="left:316px;top:459.9px;width:32px;height:32px;box-sizing:border-box;border:2px solid #b8c6d7;border-radius:7px;background:#fbfcfe;"></div>
<svg class="a" style="left:273.8999999999999px;top:468.09999999999997px" width="20.4" height="20.4" viewBox="-10.2 -10.2 20.4 20.4" ><g fill="#596673"><circle cx="0" cy="-6.1" r="3.1"/><circle cx="-6.1" cy="0" r="3.1"/><circle cx="6.1" cy="0" r="3.1"/><circle cx="0" cy="6.1" r="3.1"/></g></svg>
<div class="a" style="left:316px;top:501.65px;width:32px;height:32px;box-sizing:border-box;border:2px solid #b8c6d7;border-radius:7px;background:#fbfcfe;"></div>
<svg class="a" style="left:273.8999999999999px;top:509.84999999999997px" width="20.4" height="20.4" viewBox="-10.2 -10.2 20.4 20.4" ><g fill="#596673"><circle cx="0" cy="-6.1" r="3.1"/><circle cx="-6.1" cy="0" r="3.1"/><circle cx="6.1" cy="0" r="3.1"/><circle cx="0" cy="6.1" r="3.1"/></g></svg>
<div class="a" style="left:316px;top:543.4px;width:32px;height:32px;box-sizing:border-box;border:2px solid #b8c6d7;border-radius:7px;background:#fbfcfe;"></div>
<svg class="a" style="left:273.8999999999999px;top:551.5999999999999px" width="20.4" height="20.4" viewBox="-10.2 -10.2 20.4 20.4" ><g fill="#596673"><circle cx="0" cy="-6.1" r="3.1"/><circle cx="-6.1" cy="0" r="3.1"/><circle cx="6.1" cy="0" r="3.1"/><circle cx="0" cy="6.1" r="3.1"/></g></svg>
<div class="a" style="left:316px;top:585.15px;width:32px;height:32px;box-sizing:border-box;border:2px solid #b8c6d7;border-radius:7px;background:#fbfcfe;"></div>
<svg class="a" style="left:273.8999999999999px;top:593.3499999999999px" width="20.4" height="20.4" viewBox="-10.2 -10.2 20.4 20.4" ><g fill="#596673"><circle cx="0" cy="-6.1" r="3.1"/><circle cx="-6.1" cy="0" r="3.1"/><circle cx="6.1" cy="0" r="3.1"/><circle cx="0" cy="6.1" r="3.1"/></g></svg>
<div class="a" style="left:316px;top:626.9px;width:32px;height:32px;box-sizing:border-box;border:2px solid #b8c6d7;border-radius:7px;background:#fbfcfe;"></div>
<svg class="a" style="left:273.8999999999999px;top:635.0999999999999px" width="20.4" height="20.4" viewBox="-10.2 -10.2 20.4 20.4" ><g fill="#596673"><circle cx="0" cy="-6.1" r="3.1"/><circle cx="-6.1" cy="0" r="3.1"/><circle cx="6.1" cy="0" r="3.1"/><circle cx="0" cy="6.1" r="3.1"/></g></svg>
<div class="a" style="left:316px;top:668.65px;width:32px;height:32px;box-sizing:border-box;border:2px solid #b8c6d7;border-radius:7px;background:#fbfcfe;"></div>
<svg class="a" style="left:273.8999999999999px;top:676.8499999999999px" width="20.4" height="20.4" viewBox="-10.2 -10.2 20.4 20.4" ><g fill="#596673"><circle cx="0" cy="-6.1" r="3.1"/><circle cx="-6.1" cy="0" r="3.1"/><circle cx="6.1" cy="0" r="3.1"/><circle cx="0" cy="6.1" r="3.1"/></g></svg>
<div class="a" style="left:316px;top:710.4px;width:32px;height:32px;box-sizing:border-box;border:2px solid #b8c6d7;border-radius:7px;background:#fbfcfe;"></div>
<svg class="a" style="left:273.8999999999999px;top:718.5999999999999px" width="20.4" height="20.4" viewBox="-10.2 -10.2 20.4 20.4" ><g fill="#596673"><circle cx="0" cy="-6.1" r="3.1"/><circle cx="-6.1" cy="0" r="3.1"/><circle cx="6.1" cy="0" r="3.1"/><circle cx="0" cy="6.1" r="3.1"/></g></svg>
<div class="a" style="left:316px;top:752.15px;width:32px;height:32px;box-sizing:border-box;border:2px solid #b8c6d7;border-radius:7px;background:#fbfcfe;"></div>
<svg class="a" style="left:273.8999999999999px;top:760.3499999999999px" width="20.4" height="20.4" viewBox="-10.2 -10.2 20.4 20.4" ><g fill="#596673"><circle cx="0" cy="-6.1" r="3.1"/><circle cx="-6.1" cy="0" r="3.1"/><circle cx="6.1" cy="0" r="3.1"/><circle cx="0" cy="6.1" r="3.1"/></g></svg>
<div class="a" style="left:316px;top:793.9px;width:32px;height:32px;box-sizing:border-box;border:2px solid #b8c6d7;border-radius:7px;background:#fbfcfe;"></div>
<svg class="a" style="left:273.8999999999999px;top:802.0999999999999px" width="20.4" height="20.4" viewBox="-10.2 -10.2 20.4 20.4" ><g fill="#596673"><circle cx="0" cy="-6.1" r="3.1"/><circle cx="-6.1" cy="0" r="3.1"/><circle cx="6.1" cy="0" r="3.1"/><circle cx="0" cy="6.1" r="3.1"/></g></svg>
<div class="a" style="left:316px;top:835.65px;width:32px;height:32px;box-sizing:border-box;border:2px solid #b8c6d7;border-radius:7px;background:#fbfcfe;"></div>
<svg class="a" style="left:273.8999999999999px;top:843.8500000000001px" width="20.4" height="20.4" viewBox="-10.2 -10.2 20.4 20.4" ><g fill="#596673"><circle cx="0" cy="-6.1" r="3.1"/><circle cx="-6.1" cy="0" r="3.1"/><circle cx="6.1" cy="0" r="3.1"/><circle cx="0" cy="6.1" r="3.1"/></g></svg>
<svg class="a" style="left:316px;top:42.400000000000006px" width="32" height="32" viewBox="0 0 32 32" ><path d="M5.4 19.2 L12.6 25.2 L27.6 11.8" fill="none" stroke="#1f2933" stroke-width="3.5" stroke-linecap="round" stroke-linejoin="round"/></svg>
<span class="t" style="left:48.55px;top:40.80px;font-size:28.8px;line-height:38px;color:#3f4d5a;letter-spacing:-0.037px;-webkit-text-stroke:0.45px currentColor;">Table Columns</span>
<label class="t" style="left:358.20px;top:40.30px;font-size:28.8px;line-height:38px;color:#3f4d5a;letter-spacing:0.201px;-webkit-text-stroke:0.45px currentColor;">Entry Type</label>
<label class="t" style="left:358.20px;top:82.05px;font-size:28.8px;line-height:38px;color:#3f4d5a;letter-spacing:0.331px;-webkit-text-stroke:0.45px currentColor;">Ancestors</label>
<label class="t" style="left:358.20px;top:123.80px;font-size:28.8px;line-height:38px;color:#3f4d5a;letter-spacing:0.241px;-webkit-text-stroke:0.45px currentColor;">Authors</label>
<label class="t" style="left:358.20px;top:165.55px;font-size:28.8px;line-height:38px;color:#3f4d5a;letter-spacing:0.066px;-webkit-text-stroke:0.45px currentColor;">Date Created</label>
<label class="t" style="left:358.20px;top:207.30px;font-size:28.8px;line-height:38px;color:#3f4d5a;letter-spacing:0.263px;-webkit-text-stroke:0.45px currentColor;">Date Updated</label>
<label class="t" style="left:358.20px;top:249.05px;font-size:28.8px;line-height:38px;color:#3f4d5a;letter-spacing:0.598px;-webkit-text-stroke:0.45px currentColor;">Drafts</label>
<label class="t" style="left:358.20px;top:290.80px;font-size:28.8px;line-height:38px;color:#3f4d5a;letter-spacing:-0.069px;-webkit-text-stroke:0.45px currentColor;">Endangered</label>
<label class="t" style="left:358.20px;top:332.55px;font-size:28.8px;line-height:38px;color:#3f4d5a;letter-spacing:-0.008px;-webkit-text-stroke:0.45px currentColor;">Expiry Date</label>
<label class="t" style="left:358.20px;top:374.30px;font-size:28.8px;line-height:38px;color:#3f4d5a;letter-spacing:-1.302px;-webkit-text-stroke:0.45px currentColor;">ID</label>
<label class="t" style="left:358.20px;top:416.05px;font-size:28.8px;line-height:38px;color:#3f4d5a;letter-spacing:-0.031px;-webkit-text-stroke:0.45px currentColor;">Last Edited By</label>
<label class="t" style="left:358.20px;top:457.80px;font-size:28.8px;line-height:38px;color:#3f4d5a;letter-spacing:-0.094px;-webkit-text-stroke:0.45px currentColor;">Link</label>
<label class="t" style="left:358.20px;top:499.55px;font-size:28.8px;line-height:38px;color:#3f4d5a;letter-spacing:-0.350px;-webkit-text-stroke:0.45px currentColor;">Parent</label>
<label class="t" style="left:358.20px;top:541.30px;font-size:28.8px;line-height:38px;color:#3f4d5a;letter-spacing:0.013px;-webkit-text-stroke:0.45px currentColor;">Post Date</label>
<label class="t" style="left:358.20px;top:583.05px;font-size:28.8px;line-height:38px;color:#3f4d5a;letter-spacing:-0.099px;-webkit-text-stroke:0.45px currentColor;">Revision Notes</label>
<label class="t" style="left:358.20px;top:624.80px;font-size:28.8px;line-height:38px;color:#3f4d5a;letter-spacing:0.264px;-webkit-text-stroke:0.45px currentColor;">Scientific Name</label>
<label class="t" style="left:358.20px;top:666.55px;font-size:28.8px;line-height:38px;color:#3f4d5a;letter-spacing:0.443px;-webkit-text-stroke:0.45px currentColor;">Section</label>
<label class="t" style="left:358.20px;top:708.30px;font-size:28.8px;line-height:38px;color:#3f4d5a;letter-spacing:0.292px;-webkit-text-stroke:0.45px currentColor;">Slug</label>
<label class="t" style="left:358.20px;top:750.05px;font-size:28.8px;line-height:38px;color:#3f4d5a;letter-spacing:0.351px;-webkit-text-stroke:0.45px currentColor;">Status</label>
<label class="t" style="left:358.20px;top:791.80px;font-size:28.8px;line-height:38px;color:#3f4d5a;letter-spacing:-0.750px;-webkit-text-stroke:0.45px currentColor;">UID</label>
<label class="t" style="left:358.20px;top:833.55px;font-size:28.8px;line-height:38px;color:#3f4d5a;letter-spacing:-1.298px;-webkit-text-stroke:0.45px currentColor;">URI</label>
<span class="t" style="left:658.94px;top:951.20px;font-size:29.0px;line-height:38px;color:#3f4d5a;letter-spacing:-0.127px;-webkit-text-stroke:0.45px currentColor;">Close</span>
</div>
</body></html>
